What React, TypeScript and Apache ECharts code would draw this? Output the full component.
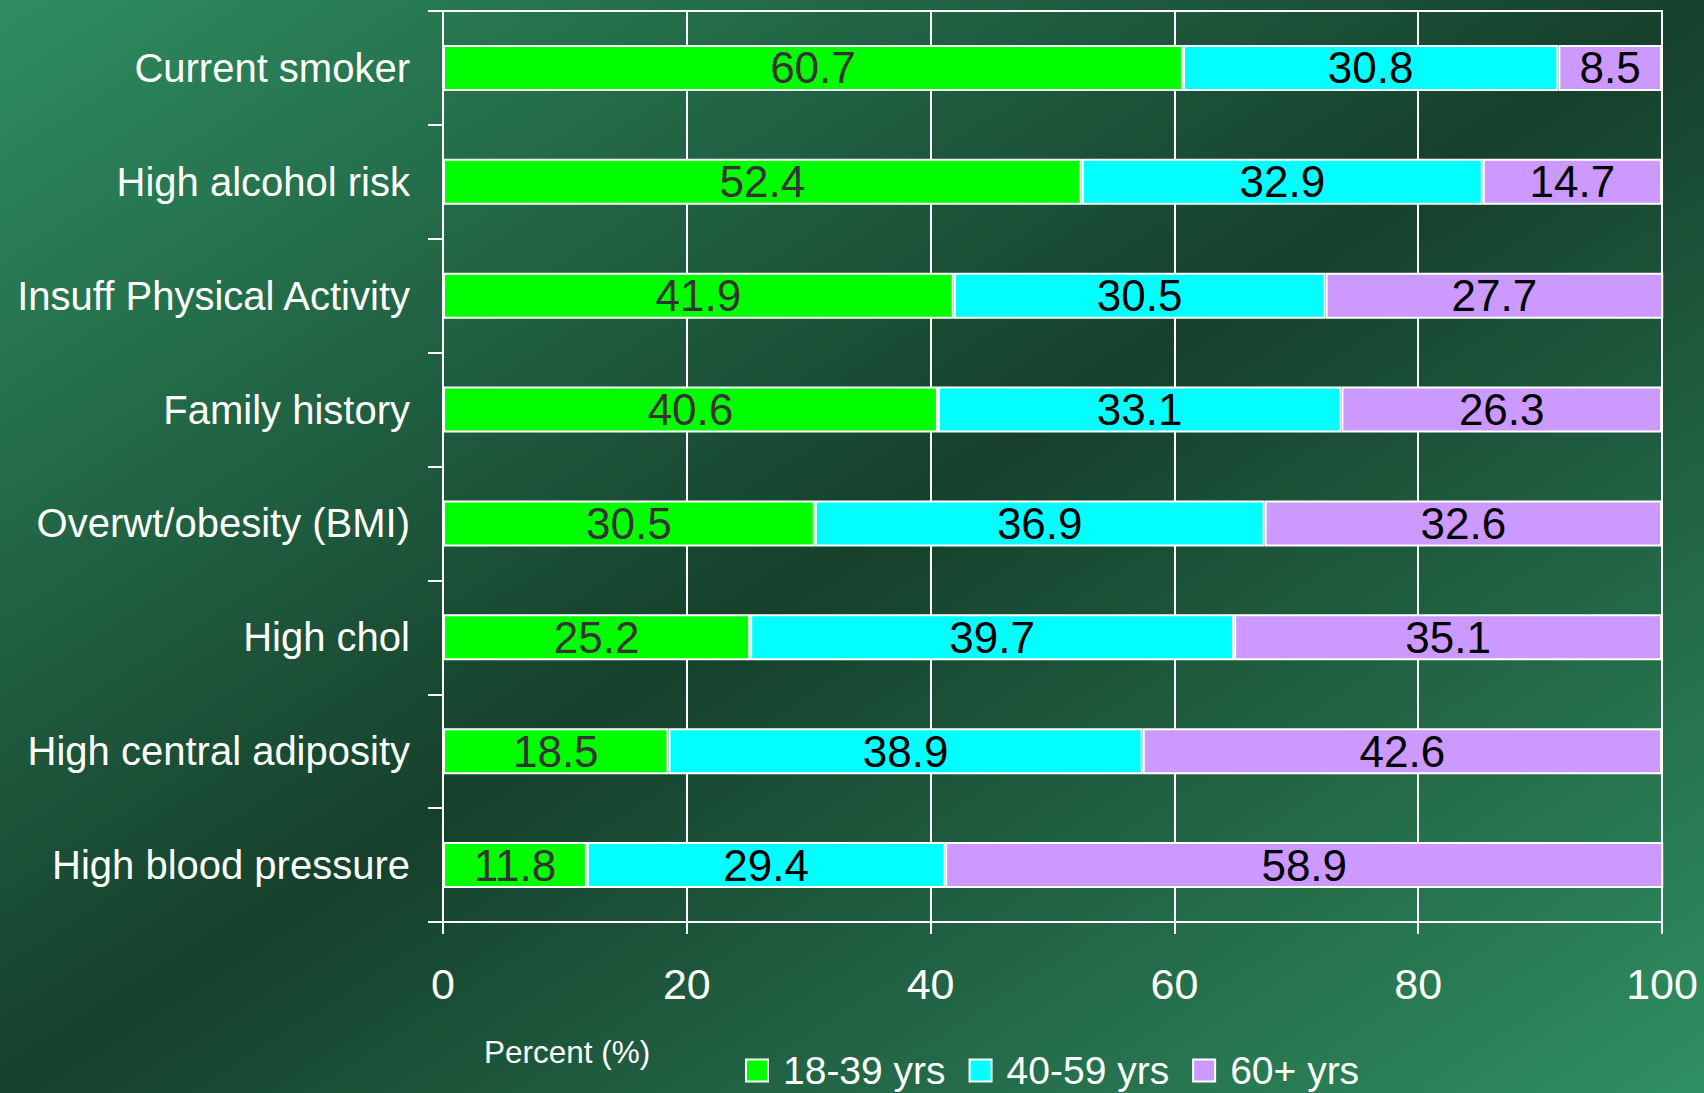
import React, { useEffect, useRef } from "react";
import * as echarts from "echarts";

const categories = [
  "Current smoker",
  "High alcohol risk",
  "Insuff Physical Activity",
  "Family history",
  "Overwt/obesity (BMI)",
  "High chol",
  "High central adiposity",
  "High blood pressure",
];
const age18to39 = [60.7, 52.4, 41.9, 40.6, 30.5, 25.2, 18.5, 11.8];
const age40to59 = [30.8, 32.9, 30.5, 33.1, 36.9, 39.7, 38.9, 29.4];
const age60plus = [8.5, 14.7, 27.7, 26.3, 32.6, 35.1, 42.6, 58.9];
const seriesNames = ["18-39 yrs", "40-59 yrs", "60+ yrs"];
const seriesColors = ["#00ff00", "#00ffff", "#cc99ff"];
const labelColors = ["#333333", "#000000", "#000000"];
const axisTitle = "Percent (%)";

const FONT = "'Liberation Sans', Arial, sans-serif";

export default function App() {
  const ref = useRef<HTMLDivElement>(null);
  useEffect(() => {
    if (!ref.current) return;
    const chart = echarts.init(ref.current, undefined, { renderer: "svg" });
    const data = [age18to39, age40to59, age60plus];
    chart.setOption({
      animation: false,
      backgroundColor: "transparent",
      textStyle: { fontFamily: FONT },
      grid: {
        left: 443,
        top: 11,
        right: 42,
        bottom: 171,
        show: true,
        borderColor: "#ffffff",
        borderWidth: 2,
        backgroundColor: "transparent",
      },
      xAxis: {
        type: "value",
        min: 0,
        max: 100,
        interval: 20,
        axisLine: { show: true, lineStyle: { color: "#ffffff", width: 2 } },
        axisTick: { show: true, length: 12, lineStyle: { color: "#ffffff", width: 2 } },
        splitLine: { show: true, lineStyle: { color: "#ffffff", width: 2 } },
        axisLabel: { color: "#ffffff", fontSize: 43, margin: 40, fontFamily: FONT },
      },
      yAxis: {
        type: "category",
        data: categories,
        inverse: true,
        axisLine: { show: true, lineStyle: { color: "#ffffff", width: 2 } },
        axisTick: { show: true, length: 15, lineStyle: { color: "#ffffff", width: 2 } },
        axisLabel: { color: "#ffffff", fontSize: 40, margin: 33, fontFamily: FONT },
      },
      legend: {
        data: seriesNames,
        left: 745,
        top: 1051,
        padding: 0,
        itemWidth: 22,
        itemHeight: 22,
        itemGap: 23,
        icon: "rect",
        textStyle: { color: "#ffffff", fontSize: 39, fontFamily: FONT, padding: [0, 0, 0, 10] },
      },
      graphic: [
        {
          type: "text",
          left: 484,
          top: 1036,
          style: { text: axisTitle, fill: "#ffffff", fontSize: 31.5, fontFamily: FONT },
        },
      ],
      series: seriesNames.map((name, i) => ({
        name,
        type: "bar",
        stack: "total",
        barWidth: 46,
        clip: false,
        data: data[i],
        itemStyle: { color: seriesColors[i], borderColor: "#ffffff", borderWidth: 2 },
        label: {
          show: true,
          position: "inside",
          color: labelColors[i],
          fontSize: 44,
          fontFamily: FONT,
          formatter: (p: any) => Number(p.value).toFixed(1),
        },
      })),
    });
    return () => chart.dispose();
  }, []);
  return (
    <div
      style={{
        position: "fixed",
        left: 0,
        top: 0,
        width: 1704,
        height: 1093,
        background: "linear-gradient(to bottom right, #2e8d60 0%, #16402c 50%, #2f8f62 100%)",
      }}
    >
      <div ref={ref} style={{ width: 1704, height: 1093 }} />
    </div>
  );
}
